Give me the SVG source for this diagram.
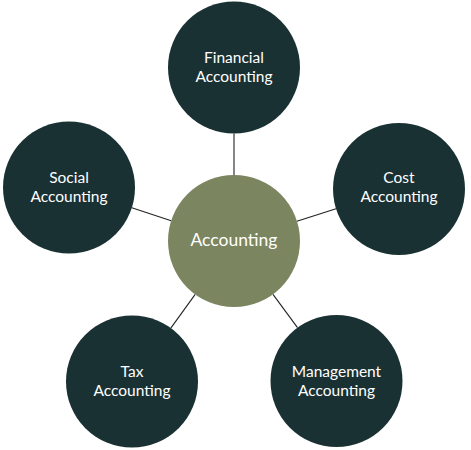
<svg xmlns="http://www.w3.org/2000/svg" width="471" height="450" viewBox="0 0 471 450">
  <style>
    .leaf { fill: #1a3134; }
    .hub { fill: #7b8560; }
    .lbl { font-family: Lato, "Open Sans", sans-serif; font-size: 15.5px; fill: #ffffff; text-anchor: middle; }
    .hubl { font-family: Lato, "Open Sans", sans-serif; font-size: 17.5px; fill: #ffffff; text-anchor: middle; }
    .conn line { stroke: #222222; stroke-width: 1.1; }
  </style>
  <rect width="471" height="450" fill="#ffffff"/>
  <g id="connectors" class="conn">
    <line x1="234" y1="133.5" x2="234" y2="175"/>
    <line x1="296.9" y1="221.2" x2="336" y2="208.8"/>
    <line x1="171.2" y1="220.7" x2="131.8" y2="207.8"/>
    <line x1="195.2" y1="294.4" x2="170.8" y2="328.1"/>
    <line x1="273" y1="294.3" x2="297.5" y2="327.7"/>
  </g>
  <g id="accounting">
    <circle class="hub" cx="234" cy="241" r="66"/>
    <text class="hubl" x="234" y="246">Accounting</text>
  </g>
  <g id="financial">
    <circle class="leaf" cx="234" cy="67.5" r="66"/>
    <text class="lbl" x="234" y="63">Financial</text>
    <text class="lbl" x="234" y="82">Accounting</text>
  </g>
  <g id="cost">
    <circle class="leaf" cx="399" cy="189" r="66"/>
    <text class="lbl" x="399" y="183">Cost</text>
    <text class="lbl" x="399" y="202">Accounting</text>
  </g>
  <g id="social">
    <circle class="leaf" cx="69" cy="187.5" r="66"/>
    <text class="lbl" x="69" y="183">Social</text>
    <text class="lbl" x="69" y="201.5">Accounting</text>
  </g>
  <g id="tax">
    <circle class="leaf" cx="132" cy="381.5" r="66"/>
    <text class="lbl" x="132" y="377">Tax</text>
    <text class="lbl" x="132" y="396">Accounting</text>
  </g>
  <g id="management">
    <circle class="leaf" cx="336.5" cy="381" r="66"/>
    <text class="lbl" x="336.5" y="377">Management</text>
    <text class="lbl" x="336.5" y="396">Accounting</text>
  </g>
</svg>
